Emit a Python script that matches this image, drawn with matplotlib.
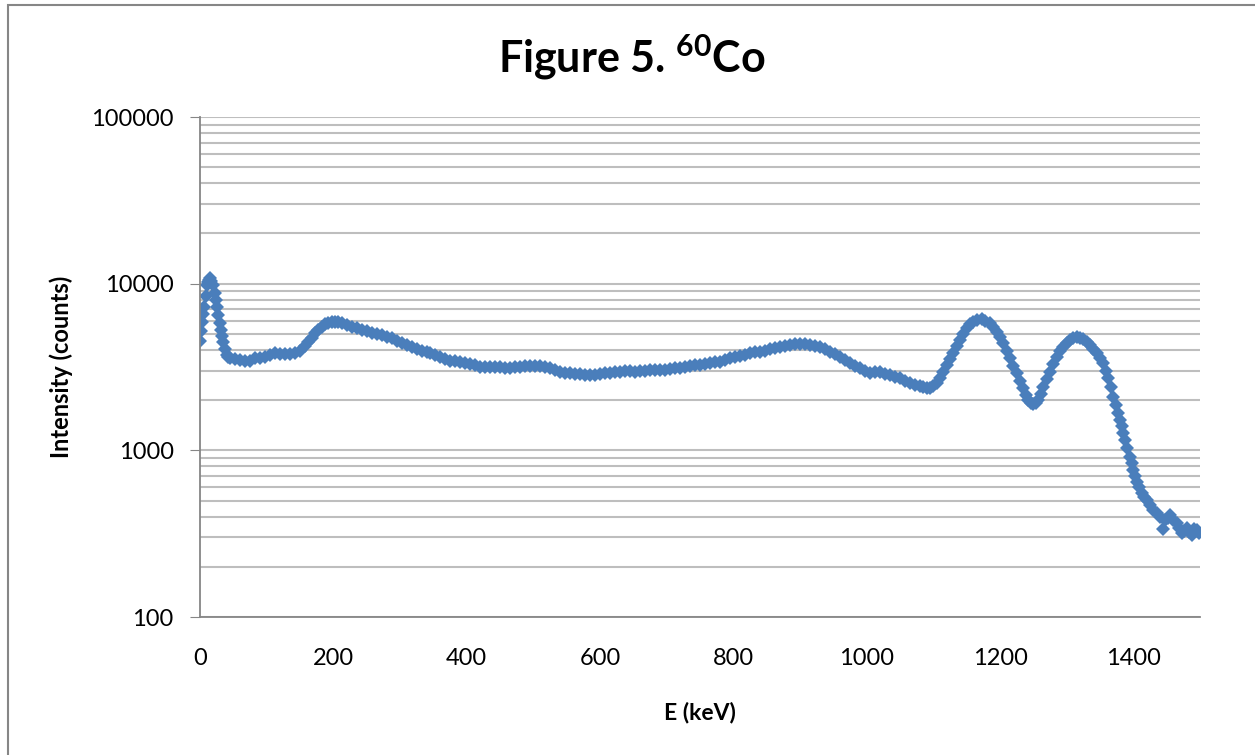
import matplotlib
matplotlib.use("Agg")
import matplotlib.pyplot as plt
from matplotlib.patches import Rectangle
from matplotlib.ticker import LogLocator, FixedLocator, NullFormatter

plt.rcParams['font.family'] = ['Lato', 'DejaVu Sans']
plt.rcParams['mathtext.fontset'] = 'custom'
plt.rcParams['mathtext.rm'] = 'Lato'
plt.rcParams['mathtext.bf'] = 'Lato:bold'

# energia (keV) y cuentas
energy = [0, 1.5, 3.5, 5, 6.5, 8.5, 10, 12, 13.5, 15, 17, 20, 22, 23.5, 25.5,
          27.5, 29.5, 31.5, 33, 35, 37.5, 40, 42.5, 45, 52.5, 60, 67.5, 75,
          82.5, 90, 97.5, 105, 112.5, 120, 127.5, 135, 142.5, 150, 157.5,
          162.5, 167.5, 172.5, 177.5, 182.5, 187.5, 192.5, 197.5, 202.5,
          207.5, 212.5, 220, 227.5, 235, 242.5, 250, 257.5, 265, 272.5, 280,
          287.5, 295, 302.5, 310, 317.5, 325, 332.5, 340, 345, 352.5, 360,
          367.5, 375, 382.5, 390, 397.5, 405, 412.5, 420, 427.5, 435, 442.5,
          450, 457.5, 465, 472.5, 480, 487.5, 495, 502.5, 510, 517.5, 525,
          532.5, 540, 547.5, 555, 562.5, 570, 577.5, 585, 592.5, 600, 607.5,
          615, 622.5, 630, 637.5, 645, 652.5, 660, 667.5, 675, 682.5, 690,
          697.5, 705, 712.5, 720, 727.5, 735, 742.5, 750, 757.5, 765, 772.5,
          780, 787.5, 795, 802.5, 810, 817.5, 825, 832.5, 840, 847.5, 855,
          862.5, 870, 877.5, 885, 892.5, 900, 907.5, 915, 922.5, 930, 937.5,
          945, 952.5, 960, 967.5, 975, 982.5, 990, 997.5, 1005, 1012.5, 1020,
          1027.5, 1035, 1042.5, 1050, 1057.5, 1065, 1072.5, 1080, 1085, 1090,
          1095, 1100, 1105, 1110, 1115, 1120, 1125, 1130, 1135, 1140, 1145,
          1150, 1155, 1160, 1166, 1172.5, 1178, 1185, 1190, 1195, 1200, 1205,
          1210, 1215, 1220, 1225, 1230, 1235, 1239, 1242.5, 1246, 1250, 1254,
          1257.5, 1261, 1265, 1270, 1275, 1280, 1285, 1290, 1295, 1300, 1305,
          1310, 1315, 1320, 1325, 1330, 1335, 1340, 1345, 1350, 1355, 1359,
          1362.5, 1366, 1370, 1374, 1377.5, 1380, 1382.5, 1385, 1387.5, 1391,
          1395, 1397.5, 1400, 1402.5, 1405, 1409, 1412.5, 1416, 1420, 1425,
          1430, 1435, 1440, 1445, 1448, 1452, 1455, 1460, 1465, 1469, 1472.5,
          1476, 1480, 1484, 1487.5, 1491, 1495, 1498]
counts = [4550, 5200, 5910, 6600, 7280, 8470, 9820, 10300, 10500, 10800, 10400,
          9820, 8800, 7980, 7200, 6490, 5800, 5270, 4850, 4490, 4050, 3730, 3620,
          3570, 3520, 3480, 3420, 3440, 3570, 3560, 3650, 3720, 3820, 3780, 3770,
          3800, 3820, 3950, 4250, 4490, 4750, 5040, 5300, 5520, 5700, 5830, 5880,
          5910, 5850, 5780, 5650, 5520, 5400, 5270, 5180, 5080, 5000, 4920, 4800,
          4700, 4550, 4390, 4270, 4150, 4050, 3960, 3880, 3820, 3730, 3650, 3540,
          3450, 3420, 3400, 3350, 3300, 3230, 3180, 3170, 3180, 3160, 3150, 3120,
          3130, 3150, 3180, 3200, 3210, 3190, 3210, 3150, 3100, 3020, 2960, 2930,
          2900, 2890, 2870, 2850, 2830, 2850, 2870, 2900, 2920, 2940, 2960, 2980,
          2990, 2970, 2990, 3010, 3030, 3020, 3030, 3050, 3060, 3100, 3130, 3170,
          3210, 3230, 3250, 3290, 3330, 3370, 3400, 3480, 3570, 3620, 3680, 3750,
          3820, 3870, 3910, 3970, 4040, 4110, 4190, 4240, 4290, 4330, 4350, 4330,
          4290, 4230, 4150, 4030, 3910, 3760, 3610, 3470, 3330, 3210, 3100, 2990,
          2900, 2940, 2960, 2880, 2830, 2770, 2700, 2600, 2520, 2470, 2430, 2390,
          2360, 2380, 2430, 2550, 2700, 2950, 3250, 3520, 3820, 4200, 4590, 5000,
          5400, 5700, 5910, 6050, 6110, 6000, 5780, 5500, 5150, 4780, 4390, 3950,
          3570, 3200, 2900, 2600, 2360, 2150, 2000, 1930, 1900, 1930, 2000, 2180,
          2410, 2680, 2960, 3300, 3650, 3920, 4190, 4400, 4590, 4700, 4760, 4720,
          4630, 4480, 4290, 4050, 3820, 3580, 3330, 3000, 2720, 2400, 2100, 1870,
          1670, 1530, 1390, 1270, 1150, 1030, 916, 840, 762, 700, 649, 600, 552,
          525, 504, 470, 439, 420, 400, 336, 380, 395, 409, 380, 365, 340, 318,
          330, 340, 325, 310, 335, 333, 320]

x_ticks = [0, 200, 400, 600, 800, 1000, 1200, 1400]
y_ticks = [100, 1000, 10000, 100000]

fig = plt.figure(figsize=(12.55, 7.55), dpi=100)
ax = fig.add_axes([200/1255, 1 - 617/755, 1000/1255, 500/755])

ax.plot(energy, counts, linestyle='none', marker='D', markersize=7,
        color='#4A7EBB', markeredgewidth=0)

ax.set_yscale('log')
ax.set_xlim(0, 1500)
ax.set_ylim(100, 100000)
ax.xaxis.set_major_locator(FixedLocator(x_ticks))
ax.yaxis.set_major_locator(FixedLocator(y_ticks))
ax.yaxis.set_minor_locator(LogLocator(base=10, subs=range(2, 10)))
ax.yaxis.set_minor_formatter(NullFormatter())
ax.set_yticklabels([str(v) for v in y_ticks])
ax.set_xticklabels([str(v) for v in x_ticks])

ax.grid(True, which='both', axis='y', color='#BEBEBE', linewidth=1.5)
ax.set_axisbelow(True)
for s in ['top', 'right']:
    ax.spines[s].set_visible(False)
ax.spines['left'].set_color('#868686')
ax.spines['bottom'].set_color('#868686')
ax.spines['left'].set_linewidth(1.3)
ax.spines['bottom'].set_linewidth(1.3)
ax.tick_params(axis='y', which='major', length=7, color='#868686', labelsize=17, pad=12)
ax.tick_params(axis='y', which='minor', length=0)
ax.tick_params(axis='x', length=0, labelsize=17, pad=22)

ax.set_xlabel('E (keV)', fontsize=16.5, fontweight='bold', labelpad=24)
ax.set_ylabel('Intensity (counts)', fontsize=17, fontweight='bold', labelpad=13)
fig.text(0.5036, 0.924, r'Figure 5. $^{\mathbf{60}}$Co', fontsize=31,
         fontweight='bold', ha='center', va='center')

fig.patches.append(Rectangle((8/1255, -0.05), 1.2, 1.05 - 5/755,
                             transform=fig.transFigure, fill=False,
                             edgecolor='#868686', linewidth=1.5))

plt.savefig('out.png', dpi=100)
